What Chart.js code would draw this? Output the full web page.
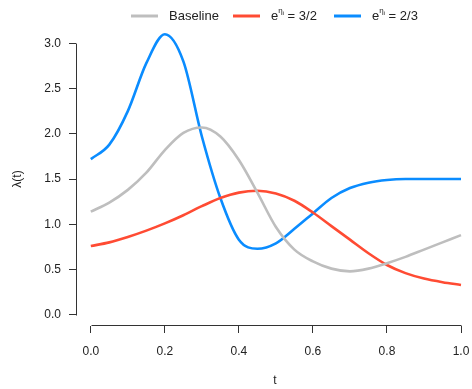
<!DOCTYPE html>
<html>
<head>
<meta charset="utf-8">
<script src="https://cdn.jsdelivr.net/npm/chart.js@4"></script>
<style>
  body { margin: 0; background: #fff; }
  #wrap { width: 472px; height: 389px; }
</style>
</head>
<body>
<div id="wrap"><canvas id="grafico" width="472" height="389"></canvas></div>
<script>
// Valores
const tempos = [0, 0.05, 0.1, 0.15, 0.2, 0.25, 0.3, 0.35, 0.4, 0.45, 0.5,
                0.55, 0.6, 0.65, 0.7, 0.75, 0.8, 0.85, 0.9, 0.95, 1.0];
const baseline = [1.14, 1.24, 1.38, 1.57, 1.82, 2.01, 2.07, 1.97, 1.71, 1.35, 0.97,
                  0.72, 0.59, 0.51, 0.48, 0.51, 0.57, 0.64, 0.72, 0.80, 0.88];
const risco32 = [0.76, 0.80, 0.86, 0.93, 1.01, 1.10, 1.20, 1.29, 1.35, 1.37, 1.34,
                 1.26, 1.13, 0.98, 0.83, 0.68, 0.55, 0.46, 0.40, 0.36, 0.33];
const risco23 = [1.72, 1.88, 2.25, 2.78, 3.10, 2.80, 1.97, 1.29, 0.83, 0.73, 0.79,
                 0.95, 1.12, 1.29, 1.40, 1.46, 1.49, 1.50, 1.50, 1.50, 1.50];
const ticksX = [0, 0.2, 0.4, 0.6, 0.8, 1.0];
const ticksY = [0, 0.5, 1.0, 1.5, 2.0, 2.5, 3.0];

const cores = { base: '#BEBEBE', vermelho: '#FF4B33', azul: '#0A8CFF' };
const fonte = '"Liberation Sans", Arial, sans-serif';

const pontos = (vals) => tempos.map((t, i) => ({ x: t, y: vals[i] }));

// Desenha os eixos no estilo R, a legenda e os títulos
const eixosR = {
  id: 'eixosR',
  afterDraw(chart) {
    const { ctx, scales: { x, y } } = chart;
    const xa = chart.chartArea.left, ya = chart.chartArea.bottom;
    ctx.save();
    ctx.strokeStyle = '#333';
    ctx.lineWidth = 1;
    ctx.beginPath();
    ctx.moveTo(xa + 0.5, Math.round(y.getPixelForValue(0)) + 0.5);
    ctx.lineTo(xa + 0.5, Math.round(y.getPixelForValue(3)) + 0.5);
    ctx.moveTo(Math.round(x.getPixelForValue(0)) + 0.5, ya - 0.5);
    ctx.lineTo(Math.round(x.getPixelForValue(1)) + 0.5, ya - 0.5);
    ctx.stroke();

    ctx.fillStyle = '#222';
    ctx.font = '12px ' + fonte;
    ctx.textAlign = 'center';
    ctx.textBaseline = 'middle';
    ctx.fillText('t', 275, 381);
    ctx.save();
    ctx.translate(18, 179);
    ctx.rotate(-Math.PI / 2);
    ctx.fillText('\u03BB(t)', 0, 0);
    ctx.restore();

    // legenda
    const itens = [
      { cor: cores.base, x0: 131, texto: ['Baseline'] },
      { cor: cores.vermelho, x0: 233, texto: ['e', '\u03B7', 'i', ' = 3/2'] },
      { cor: cores.azul, x0: 334, texto: ['e', '\u03B7', 'i', ' = 2/3'] }
    ];
    const yl = 16;
    ctx.textAlign = 'left';
    itens.forEach(it => {
      ctx.strokeStyle = it.cor;
      ctx.lineWidth = 3;
      ctx.beginPath();
      ctx.moveTo(it.x0, yl);
      ctx.lineTo(it.x0 + 27, yl);
      ctx.stroke();
      let px = it.x0 + 38;
      ctx.font = '13px ' + fonte;
      if (it.texto.length === 1) {
        ctx.fillText(it.texto[0], px, yl);
      } else {
        ctx.fillText(it.texto[0], px, yl);
        px += ctx.measureText(it.texto[0]).width;
        ctx.font = '8px ' + fonte;
        ctx.fillText(it.texto[1], px, yl - 5);
        px += ctx.measureText(it.texto[1]).width;
        ctx.font = '6px ' + fonte;
        ctx.fillText(it.texto[2], px, yl - 3);
        px += ctx.measureText(it.texto[2]).width;
        ctx.font = '13px ' + fonte;
        ctx.fillText(it.texto[3], px, yl);
      }
    });
    ctx.restore();
  }
};

const serie = (rotulo, vals, cor) => ({
  label: rotulo,
  data: pontos(vals),
  borderColor: cor,
  backgroundColor: cor,
  borderWidth: 2.6,
  pointRadius: 0,
  fill: false,
  cubicInterpolationMode: 'monotone'
});

const ctx = document.getElementById('grafico').getContext('2d');
const grafico = new Chart(ctx, {
  type: 'line',
  data: {
    datasets: [
      serie('Baseline', baseline, cores.base),
      serie('e^eta = 3/2', risco32, cores.vermelho),
      serie('e^eta = 2/3', risco23, cores.azul)
    ]
  },
  options: {
    responsive: false,
    animation: false,
    layout: { padding: { top: 23, right: 1, left: 0, bottom: 0 } },
    plugins: { legend: { display: false }, tooltip: { enabled: false } },
    scales: {
      x: {
        type: 'linear',
        min: -0.04,
        max: 1.027,
        afterBuildTicks: s => { s.ticks = ticksX.map(v => ({ value: v })); },
        afterFit: s => { s.height = 63; s.paddingLeft = 0; s.paddingRight = 0; },
        border: { display: false },
        grid: { drawOnChartArea: false, drawTicks: true, tickLength: 7, color: '#333' },
        ticks: {
          padding: 11,
          color: '#222',
          font: { family: fonte, size: 12 },
          maxRotation: 0,
          callback: v => Number(v).toFixed(1)
        }
      },
      y: {
        min: -0.124,
        max: 3.224,
        afterBuildTicks: s => { s.ticks = ticksY.map(v => ({ value: v })); },
        afterFit: s => { s.width = 76; s.paddingTop = 0; s.paddingBottom = 0; },
        border: { display: false },
        grid: { drawOnChartArea: false, drawTicks: true, tickLength: 7, color: '#333' },
        ticks: {
          padding: 8,
          color: '#222',
          font: { family: fonte, size: 12 },
          callback: v => Number(v).toFixed(1)
        }
      }
    }
  },
  plugins: [eixosR]
});
</script>
</body>
</html>
